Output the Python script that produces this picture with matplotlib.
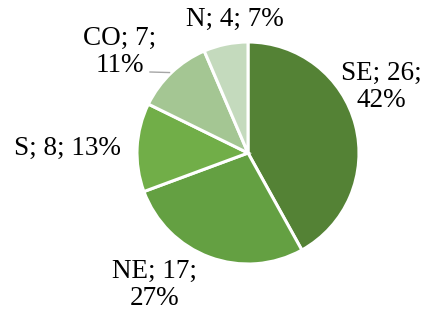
import numpy as np
import matplotlib.pyplot as plt

regions = ["SE", "NE", "S", "CO", "N"]
counts = [26, 17, 8, 7, 4]
percents = [42, 27, 13, 11, 7]
colors = ["#548235", "#64a042", "#71ae48", "#a4c693", "#c4dabd"]

plt.rcParams['font.family'] = ['Liberation Serif', 'DejaVu Serif']

fig = plt.figure(figsize=(4.26, 3.11), dpi=100)
ax = fig.add_axes([0, 0, 1, 1])
ax.set_xlim(0, 426)
ax.set_ylim(0, 311)
ax.set_aspect('equal')
ax.axis('off')

cx, cy, r = 248, 158, 111
wedges, _ = ax.pie(counts, colors=colors, startangle=90, counterclock=False,
                   center=(cx, cy), radius=r,
                   wedgeprops=dict(edgecolor='white', linewidth=2.2))
ax.set_xlim(0, 426)
ax.set_ylim(0, 311)

# label positions (pixel coords, y measured from top)
label_pos = [(381, 87), (155, 285), (67, 148), (120, 52), (235, 19)]
labels = [f"{n}; {c};\n{p}%" for n, c, p in zip(regions, counts, percents)]
labels[2] = labels[2].replace("\n", " ")
labels[4] = labels[4].replace("\n", " ")
for lab, (x, y) in zip(labels, label_pos):
    ax.text(x, 311 - y, lab, ha='center', va='center', fontsize=19.5,
            linespacing=1.12, color='black')

# leader line for CO
w = wedges[3]
mid = np.deg2rad((w.theta1 + w.theta2) / 2)
ex, ey = cx + r * np.cos(mid), cy + r * np.sin(mid)
ax.plot([150, ex - 2], [311 - 72, ey], color='#a6a6a6', linewidth=1)

fig.savefig("out.png", dpi=100)
